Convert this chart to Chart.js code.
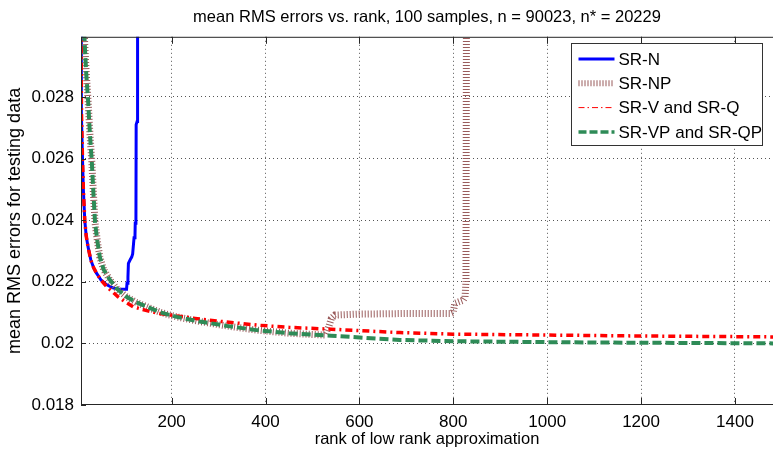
<!DOCTYPE html>
<html>
<head>
<meta charset="utf-8">
<script src="https://cdn.jsdelivr.net/npm/chart.js@4/dist/chart.umd.min.js"></script>
<style>
  body { margin: 0; background: #fff; }
  #wrap { width: 773px; height: 450px; }
</style>
</head>
<body>
<div id="wrap"><canvas id="errChart" width="773" height="450"></canvas></div>
<script>
// values
const rankN = [7, 7.5, 8, 10, 12, 15, 18, 22, 28, 34, 40, 50, 62, 75, 86, 104, 105, 107, 108, 112, 115, 117, 120, 122, 122.5, 124, 124.5, 126.5, 127.5];
const errN = [0.0302, 0.0288, 0.0275, 0.0261, 0.0250, 0.0240, 0.0235, 0.02313, 0.0227, 0.02245, 0.02228, 0.02205, 0.0219, 0.0218, 0.02176, 0.02176, 0.02195, 0.02215, 0.0226, 0.02272, 0.0228, 0.0229, 0.02343, 0.0235, 0.0239, 0.0240, 0.0271, 0.0272, 0.0305];

const rankNP = [14, 15, 18, 22, 26, 30, 33, 37, 42, 47, 55, 69, 85, 104, 125, 147, 175, 211, 260, 320, 381, 450, 500, 527, 531, 535, 540, 548, 600, 700, 795, 800, 803, 812, 821, 825, 827, 828];
const errNP = [0.0301, 0.0297, 0.0288, 0.0279, 0.0268, 0.0259, 0.0250, 0.0239, 0.0233, 0.02281, 0.0224, 0.02205, 0.02175, 0.02151, 0.02133, 0.02119, 0.02101, 0.02086, 0.02071, 0.02056, 0.02043, 0.02033, 0.02029, 0.02027, 0.0204, 0.02055, 0.0208, 0.02092, 0.02095, 0.02097, 0.02097, 0.0210, 0.0213, 0.02135, 0.0214, 0.0215, 0.0220, 0.0305];

const rankV = [7, 7.5, 8, 10, 12, 15, 18, 22, 28, 34, 40, 50, 62, 75, 86, 100, 118, 145, 175, 210, 245, 300, 384, 450, 540, 686, 800, 1000, 1200, 1481];
const errV = [0.0302, 0.0288, 0.0275, 0.0261, 0.0250, 0.0240, 0.0235, 0.02313, 0.0227, 0.02245, 0.02228, 0.02205, 0.02184, 0.02166, 0.02151, 0.02136, 0.02119, 0.02107, 0.02097, 0.02089, 0.02082, 0.02072, 0.02059, 0.02052, 0.02046, 0.02035, 0.0203, 0.02027, 0.02024, 0.02021];

const rankVP = [14, 15, 18, 22, 26, 30, 33, 37, 42, 47, 55, 69, 85, 104, 125, 147, 175, 211, 260, 320, 381, 450, 540, 686, 800, 1000, 1200, 1481];
const errVP = [0.0301, 0.0297, 0.0288, 0.0279, 0.0268, 0.0259, 0.0250, 0.0239, 0.0233, 0.02281, 0.0224, 0.02205, 0.02175, 0.02151, 0.02133, 0.02119, 0.02101, 0.02086, 0.02071, 0.02056, 0.02043, 0.02033, 0.02025, 0.02011, 0.02007, 0.02004, 0.02002, 0.02000];

const xTicks = [200, 400, 600, 800, 1000, 1200, 1400];
const yTicks = [0.018, 0.02, 0.022, 0.024, 0.026, 0.028];

const FONT = "'Liberation Sans', Arial, sans-serif";

function pts(xs, ys) { return xs.map((x, i) => ({ x: x, y: ys[i] })); }

// legend sample styles (MATLAB draws the legend lines a bit differently)
const legendStyle = [
  { width: 3, dash: [] },
  { width: 6, dash: [1, 2] },
  { width: 1, dash: [6, 3, 1.5, 3] },
  { width: 3.5, dash: [8, 3] }
];

const frame = {
  id: 'frame',
  afterDatasetsDraw(chart) {
    const { ctx, chartArea: a, scales } = chart;
    ctx.save();
    ctx.strokeStyle = '#262626';
    ctx.lineWidth = 1;
    ctx.setLineDash([]);
    ctx.strokeRect(a.left + 0.5, a.top + 0.5, a.right - a.left, a.bottom - a.top - 1);
    ctx.beginPath();
    xTicks.forEach(v => {
      const px = Math.round(scales.x.getPixelForValue(v)) + 0.5;
      ctx.moveTo(px, a.bottom); ctx.lineTo(px, a.bottom - 7);
      ctx.moveTo(px, a.top); ctx.lineTo(px, a.top + 7);
    });
    yTicks.forEach(v => {
      const py = Math.round(scales.y.getPixelForValue(v)) + 0.5;
      ctx.moveTo(a.left, py); ctx.lineTo(a.left + 5, py);
    });
    ctx.stroke();

    // legend box, top right inside the axes
    const bw = 191, bh = 102;
    const bx = Math.round(a.right - 11) - bw + 0.5, by = Math.round(a.top + 6) + 0.5;
    ctx.fillStyle = '#fff';
    ctx.fillRect(bx, by, bw, bh);
    ctx.strokeStyle = '#333';
    ctx.strokeRect(bx, by, bw, bh);
    ctx.font = '17px ' + FONT;
    ctx.textBaseline = 'middle';
    chart.data.datasets.forEach((ds, i) => {
      const yy = by + 15.5 + i * 24.3;
      const st = legendStyle[i];
      ctx.strokeStyle = ds.borderColor;
      ctx.lineWidth = st.width;
      ctx.setLineDash(st.dash);
      ctx.beginPath();
      ctx.moveTo(bx + 7, yy); ctx.lineTo(bx + 43, yy);
      ctx.stroke();
      ctx.fillStyle = '#000';
      ctx.fillText(ds.label, bx + 47, yy + 1);
    });
    ctx.restore();
  }
};

new Chart(document.getElementById('errChart'), {
  type: 'line',
  data: {
    datasets: [
      { label: 'SR-N', data: pts(rankN, errN), borderColor: '#0000ff', borderWidth: 3, order: 4 },
      { label: 'SR-NP', data: pts(rankNP, errNP), borderColor: '#9a5c5c', borderWidth: 7, borderDash: [1, 2], borderCapStyle: 'butt', order: 3 },
      { label: 'SR-V and SR-Q', data: pts(rankV, errV), borderColor: '#ff0000', borderWidth: 3.5, borderDash: [7, 4, 2, 4], order: 2 },
      { label: 'SR-VP and SR-QP', data: pts(rankVP, errVP), borderColor: '#2e8b57', borderWidth: 4, borderDash: [9, 4], order: 1 }
    ]
  },
  options: {
    responsive: false,
    animation: false,
    events: [],
    elements: { point: { radius: 0 }, line: { tension: 0, fill: false } },
    datasets: { line: { clip: 0 } },
    layout: { padding: 0 },
    plugins: {
      legend: { display: false },
      tooltip: { enabled: false },
      title: {
        display: true,
        fullSize: false,
        text: 'mean RMS errors vs. rank, 100 samples, n = 90023, n* = 20229',
        color: '#000',
        font: { family: FONT, size: 16.5, weight: 'normal' },
        padding: { top: 8, bottom: 9 }
      }
    },
    scales: {
      x: {
        type: 'linear',
        min: 7, max: 1481,
        afterFit(s) { s.height = 45; },
        border: { display: false, dash: [1, 3] },
        grid: { color: '#555', drawTicks: false },
        ticks: {
          stepSize: 200, includeBounds: false, autoSkip: false, maxRotation: 0,
          padding: 7, color: '#000', font: { family: FONT, size: 17 },
          callback: v => String(v)
        },
        title: {
          display: true, text: 'rank of low rank approximation', color: '#000',
          font: { family: FONT, size: 16.5, lineHeight: 1 }, padding: { top: 0, bottom: 2 }
        }
      },
      y: {
        min: 0.018, max: 0.02995,
        afterFit(s) { s.width = 81; },
        border: { display: false, dash: [1, 3] },
        grid: { color: '#555', drawTicks: false },
        ticks: {
          stepSize: 0.002, includeBounds: false, autoSkip: false,
          padding: 7, color: '#000', font: { family: FONT, size: 17 },
          callback: v => String(+v.toFixed(3))
        },
        title: {
          display: true, text: 'mean RMS errors for testing data', color: '#000',
          font: { family: FONT, size: 18, lineHeight: 1 }, padding: { top: 6, bottom: 0 }
        }
      }
    }
  },
  plugins: [frame]
});
</script>
</body>
</html>
